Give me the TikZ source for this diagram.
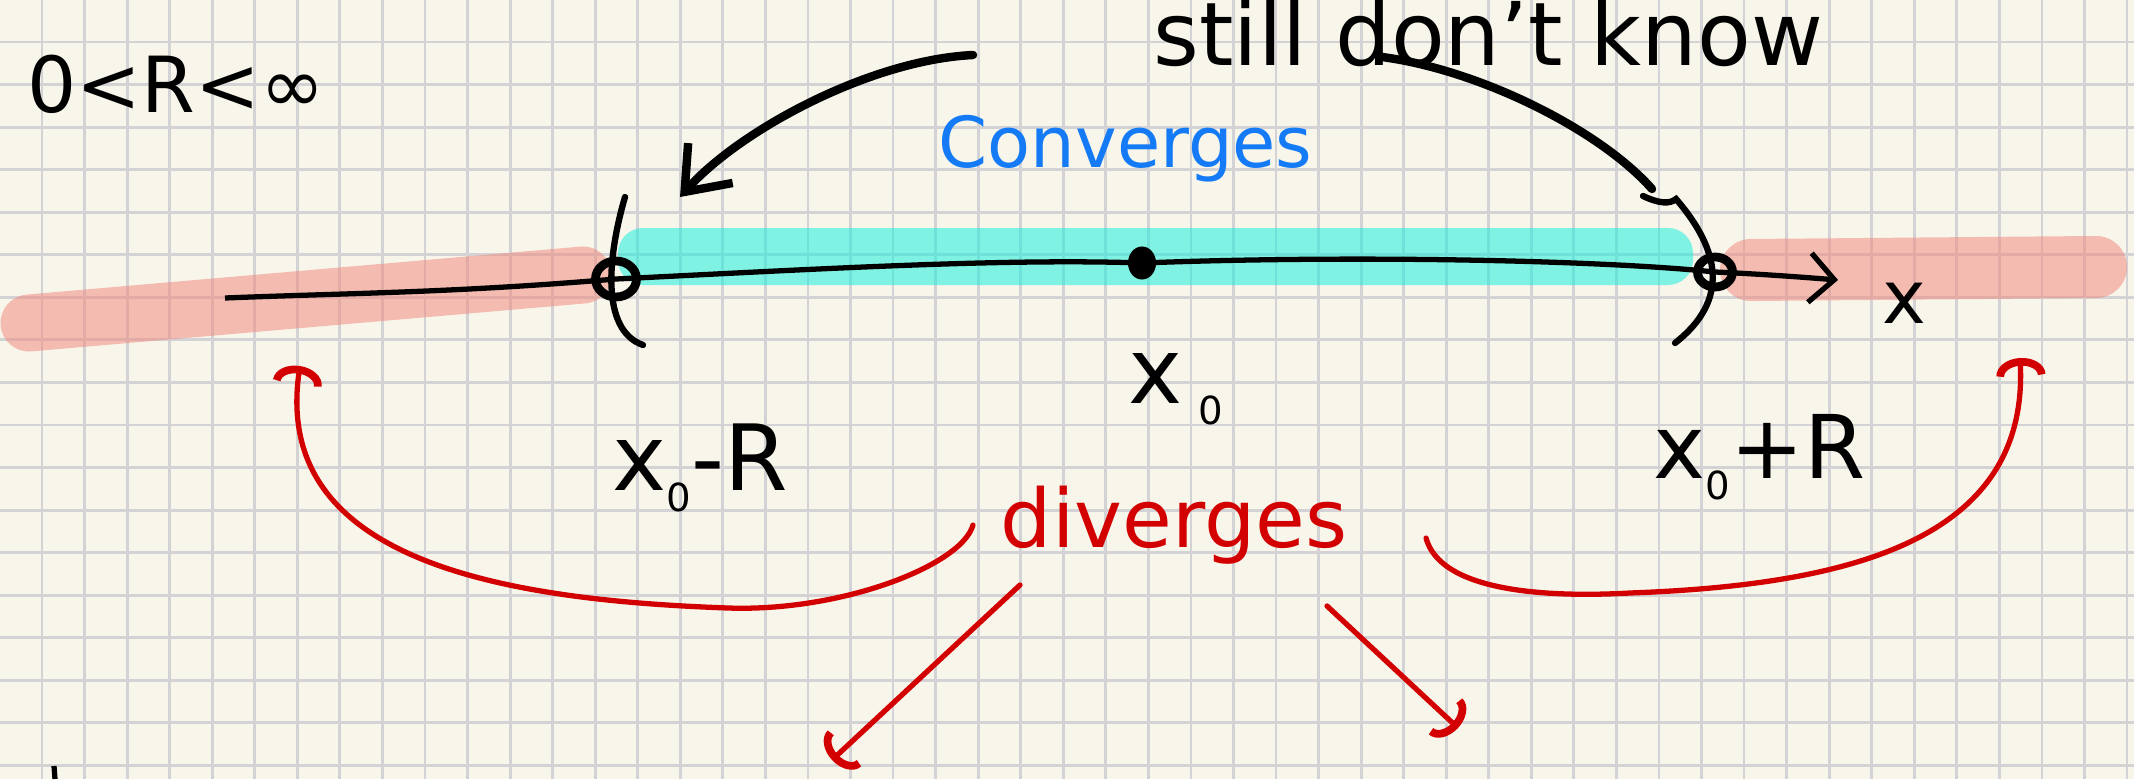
\documentclass[tikz,border=0pt]{standalone}
\usepackage{fontspec}
\setmainfont{DejaVu Sans}
\usepackage{xcolor}
\usetikzlibrary{arrows.meta,shapes.geometric}
\definecolor{paper}{RGB}{248,246,235}
\definecolor{gridgrey}{RGB}{211,211,214}
\definecolor{salmon}{RGB}{242,132,118}
\definecolor{aqua}{RGB}{10,240,220}
\definecolor{inkblue}{RGB}{20,122,245}
\definecolor{inkred}{RGB}{210,0,0}
\newcommand{\naught}{\raisebox{-6pt}{\fontsize{11pt}{11pt}\selectfont 0}}

\begin{document}
\begin{tikzpicture}[
    x=0.01cm, y=-0.01cm,
    gridline/.style={draw=gridgrey,line width=0.8pt},
    band/.style={line cap=round,opacity=0.5},
    hand/.style={anchor=base west,inner sep=0pt},
    marker/.style={draw,ellipse,line width=2.5pt,inner sep=0pt},
    axisline/.style={line width=1.5pt,-{Straight Barb[length=7pt,width=14pt]}},
    paren/.style={line width=1.8pt,line cap=round},
    blackarrow/.style={line width=2.4pt,line cap=round},
    redarrow/.style={draw=inkred,line width=1.5pt,line cap=round,
        -{Arc Barb[length=5pt,width=14pt,line width=2.2pt]}}
]
\fill[paper] (0,0) rectangle (2134,779);
\useasboundingbox (0,0) rectangle (2134,779);
% grid paper
\foreach \k in {1,...,50}
    \draw[gridline] ({42.55*\k-0.5},0) -- ({42.55*\k-0.5},779);
\foreach \k in {1,...,18}
    \draw[gridline] (0,{42.55*\k-0.5}) -- (2134,{42.55*\k-0.5});

% highlighter bands
\draw[band,salmon,line width=0.57cm] (29,323) -- (583,275);
\draw[band,salmon,line width=0.62cm] (1751,270) -- (2096,267);
\fill[aqua,opacity=0.5,rounded corners=0.25cm] (618,228) rectangle (1693,285);

% points on the line
\node[marker,minimum width=0.41cm,minimum height=0.36cm] (lo) at (616,279) {};
\node[ellipse,fill,inner sep=0pt,minimum width=0.28cm,minimum height=0.33cm] (xo) at (1142,263) {};
\node[marker,minimum width=0.35cm,minimum height=0.30cm] (hi) at (1715,272) {};
\coordinate (axstart) at (225,298);
\coordinate (axend) at (1838,280);
\draw[axisline] (axstart) .. controls (350,293) and (450,293) .. (lo.center)
    .. controls (800,270) and (1000,258) .. (xo.center)
    .. controls (1350,255) and (1600,260) .. (hi.center)
    .. controls (1760,274) and (1800,277) .. (axend);

% brackets at both ends
\draw[paren] (625,197) .. controls (608,255) and (600,330) .. (643,345);
\draw[paren] (1643,196) .. controls (1660,204) and (1670,204) .. (1676,199)
    .. controls (1720,250) and (1730,300) .. (1675,343);

% labels
\node[hand,font=\fontsize{22pt}{22pt}\selectfont] (range) at (27,113) {0<R<∞};
\node[hand,font=\fontsize{25pt}{25pt}\selectfont] (still) at (1153,66) {still don't know};
\node[hand,text=inkblue,font=\fontsize{20pt}{20pt}\selectfont] (conv) at (938,167) {Converges};
\node[hand,text=inkred,font=\fontsize{23pt}{23pt}\selectfont] (div) at (1000,547) {diverges};
\node[hand,font=\fontsize{26pt}{26pt}\selectfont] (xolab) at (1128,403) {x\,\naught};
\node[hand,font=\fontsize{26pt}{26pt}\selectfont] (lolab) at (612,490) {x\naught-R};
\node[hand,font=\fontsize{25pt}{25pt}\selectfont] (hilab) at (1653,478) {x\naught+R};
\node[hand,font=\fontsize{21pt}{21pt}\selectfont] (xlab) at (1882,323) {x};

% still don't know
\coordinate (sl) at (973,55);
\coordinate (lotip) at (680,197);
\coordinate (sr) at (1382,57);
\coordinate (hitip) at (1652,189);
\draw[blackarrow,-{Straight Barb[length=11pt,width=17pt]}] (sl)
    .. controls (870,60) and (740,130) .. (lotip);
\draw[blackarrow] (sr) .. controls (1480,70) and (1600,130) .. (hitip);

% diverges
\coordinate (dl) at (973,525);
\coordinate (lefttip) at (300,366);
\coordinate (dr) at (1426,538);
\coordinate (righttip) at (2020,358);
\coordinate (ddl) at (1020,585);
\coordinate (ddltip) at (832,760);
\coordinate (ddr) at (1327,606);
\coordinate (ddrtip) at (1458,728);
\draw[redarrow] (dl) .. controls (962,565) and (842,612) .. (728,608)
    .. controls (500,600) and (270,560) .. (lefttip);
\draw[redarrow] (dr) .. controls (1440,590) and (1540,598) .. (1630,593)
    .. controls (1850,585) and (2030,540) .. (righttip);
\draw[redarrow] (ddl) -- (ddltip);
\draw[redarrow] (ddr) -- (ddrtip);

\draw[line width=1.5pt] (54,766) -- (55,779);
\end{tikzpicture}
\end{document}
